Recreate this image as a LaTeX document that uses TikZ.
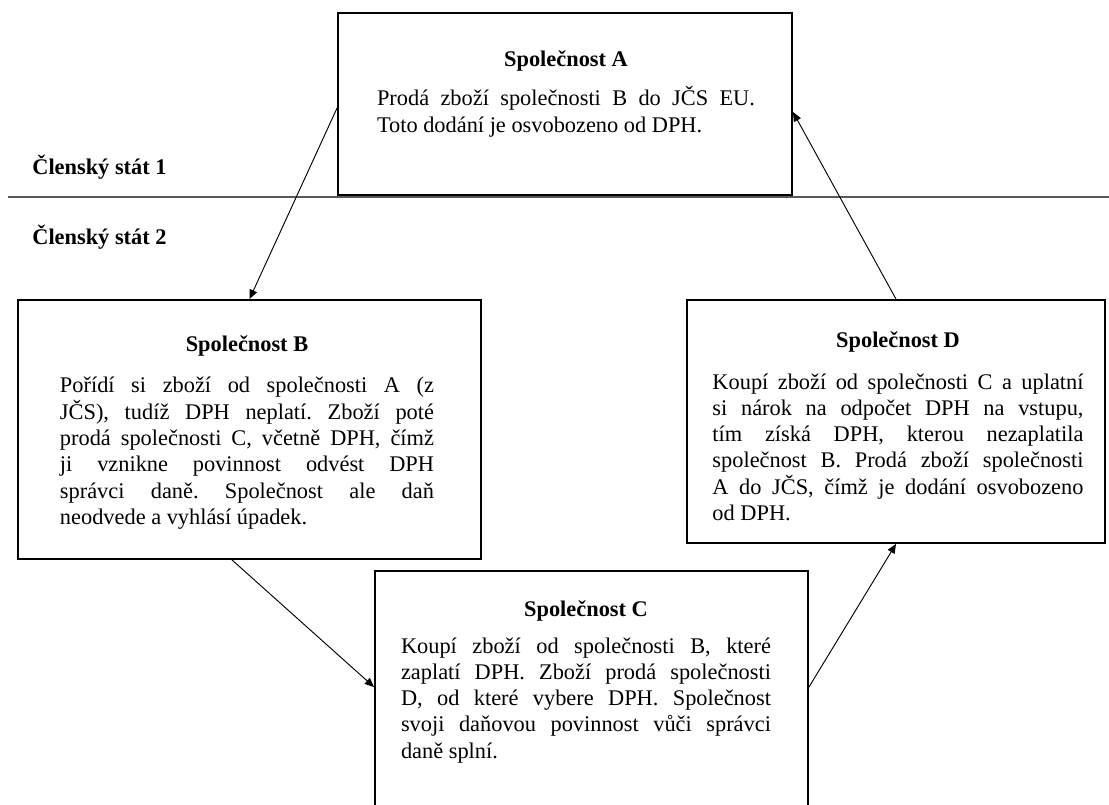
\documentclass[tikz,border=0pt]{standalone}
\usepackage{fontspec}
\setmainfont{Liberation Serif}
\usetikzlibrary{arrows.meta,calc,fit}
\newcommand\sazba{\fontsize{12}{14.1}\selectfont\frenchspacing
        \hyphenpenalty=10000 \tolerance=10000 \parindent=0pt}
\tikzset{
        box/.style     = {draw, line width=1pt, inner sep=0pt},
        nadpis/.style  = {anchor=base, inner sep=0pt, font=\sazba\bfseries},
        popis/.style   = {anchor=base, inner sep=0pt, align=justify, font=\sazba},
        stat/.style    = {anchor=base west, inner sep=0pt, font=\sazba\bfseries},
        tok/.style     = {-{Triangle[length=5pt,width=4.2pt]}, line width=0.5pt},
        hranice/.style = {line width=0.9pt, black!65}
}
\begin{document}
\begin{tikzpicture}[x=0.5366pt, y=-0.5366pt]
                  \useasboundingbox (0,0) rectangle (1109,805);
                  \coordinate (hranL) at (8,197);
                  \coordinate (hranR) at (1109,197);
                  \draw [hranice] (hranL) -- (hranR);
                  \node [stat] (stat1) at (32,175) {Členský stát 1};
                  \node [stat] (stat2) at (32,245) {Členský stát 2};
                  \node [box, fit={(338,13) (792,195)}] (boxA) {};
                  \node [box, fit={(18,300) (481,559)}] (boxB) {};
                  \node [box, fit={(375,571) (808,830)}] (boxC) {};
                  \node [box, fit={(687,300) (1105,543)}] (boxD) {};
                  \node [nadpis] (titA) at (566,67) {Společnost A};
                  \node [nadpis] (titB) at (247,352) {Společnost B};
                  \node [nadpis] (titC) at (586,616) {Společnost C};
                  \node [nadpis] (titD) at (898,348) {Společnost D};
                  \node [popis, text width=202.8pt] (txtA) at (566,106)
                        {Prodá zboží společnosti B do JČS EU.\linebreak
                        Toto dodání je osvobozeno od DPH.};
                  \node [popis, text width=200.7pt] (txtB) at (247,393)
                        {Pořídí si zboží od společnosti A (z\linebreak
                        JČS), tudíž DPH neplatí. Zboží poté\linebreak
                        prodá společnosti C, včetně DPH, čímž\linebreak
                        ji vznikne povinnost odvést DPH\linebreak
                        správci daně. Společnost ale daň\linebreak
                        neodvede a vyhlásí úpadek.};
                  \node [popis, text width=198.5pt] (txtC) at (586,653)
                        {Koupí zboží od společnosti B, které\linebreak
                        zaplatí DPH. Zboží prodá společnosti\linebreak
                        D, od které vybere DPH. Společnost\linebreak
                        svoji daňovou povinnost vůči správci\linebreak
                        daně splní.};
                  \node [popis, text width=199.1pt] (txtD) at (898,389)
                        {Koupí zboží od společnosti C a uplatní\linebreak
                        si nárok na odpočet DPH na vstupu,\linebreak
                        tím získá DPH, kterou nezaplatila\linebreak
                        společnost B. Prodá zboží společnosti\linebreak
                        A do JČS, čímž je dodání osvobozeno\linebreak
                        od DPH.};
                  \path
                        ($(boxA.west)+(0,4)$) edge [tok] (boxB.north)
                        ($(boxB.south)+(-17.5,0)$) edge [tok] ($(boxC.north west)+(0,117)$)
                        ($(boxC.north east)+(0,117)$) edge [tok] (boxD.south)
                        (boxD.north) edge [tok] ($(boxA.east)+(0,8)$);
        \end{tikzpicture}
\end{document}
